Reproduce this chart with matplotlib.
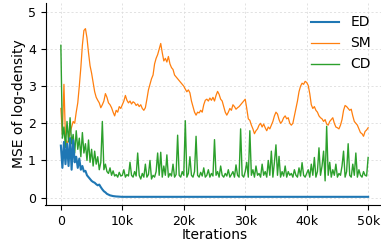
import numpy as np
import matplotlib
matplotlib.use("Agg")
import matplotlib.pyplot as plt

# ---------------- data ----------------
step = 250
iters = np.arange(0, 50001, step)

sm_values = [
    2.4, 1.7, 3.05, 1.6, 1.45, 1.55, 1.75, 1.9, 2.05, 2.0,
    2.3, 2.55, 3.0, 3.5, 4.1, 4.5, 4.55, 4.3, 3.9, 3.55,
    3.35, 3.1, 2.85, 2.7, 2.62, 2.55, 2.42, 2.5, 2.6, 2.8,
    2.7, 2.55, 2.5, 2.42, 2.3, 2.2, 2.35, 2.3, 2.45, 2.4,
    2.5, 2.6, 2.75, 2.62, 2.55, 2.6, 2.52, 2.58, 2.55, 2.48,
    2.52, 2.45, 2.5, 2.4, 2.35, 2.42, 2.65, 2.9, 3.05, 3.2,
    3.3, 3.6, 3.75, 3.85, 4.0, 4.15, 3.9, 3.68, 3.75, 3.65,
    3.8, 3.6, 3.5, 3.45, 3.3, 3.25, 3.2, 3.15, 3.1, 3.05,
    3.0, 2.92, 2.85, 2.9, 2.82, 2.6, 2.45, 2.3, 2.22, 2.3,
    2.28, 2.35, 2.3, 2.5, 2.62, 2.65, 2.6, 2.68, 2.62, 2.7,
    2.6, 2.75, 2.86, 2.78, 2.65, 2.6, 2.45, 2.3, 2.22, 2.3,
    2.4, 2.35, 2.5, 2.45, 2.38, 2.42, 2.45, 2.5, 2.55, 2.6,
    2.65, 2.4, 2.12, 2.08, 1.95, 1.85, 1.72, 1.8, 1.85, 1.95,
    2.0, 1.9, 1.98, 1.88, 1.8, 1.9, 1.85, 1.95, 2.05, 2.2,
    2.3, 2.25, 2.1, 2.0, 2.05, 2.15, 2.2, 2.12, 2.15, 2.0,
    1.95, 2.0, 2.2, 2.4, 2.6, 2.85, 3.0, 3.08, 3.05, 3.13,
    3.1, 3.02, 2.8, 2.5, 2.4, 2.45, 2.35, 2.3, 2.2, 2.15,
    2.12, 2.05, 2.1, 1.98, 1.95, 2.05, 2.1, 2.15, 2.0, 1.9,
    1.88, 1.85, 1.95, 2.1, 2.35, 2.48, 2.45, 2.4, 2.35, 2.38,
    2.2, 2.05, 2.0, 1.95, 1.85, 1.75, 1.72, 1.65, 1.78, 1.82,
    1.88,
]

cd_values = [
    4.1, 1.6, 1.9, 1.35, 2.05, 1.5, 2.15, 1.45, 1.7, 1.2,
    1.8, 1.3, 1.6, 1.1, 1.75, 1.2, 1.45, 1.0, 1.55, 0.95,
    1.3, 0.85, 1.25, 0.9, 1.1, 0.75, 0.95, 2.05, 0.75, 0.9,
    0.7, 0.65, 0.8, 0.6, 0.72, 0.58, 0.62, 0.55, 0.68, 0.58,
    0.6, 0.75, 0.55, 0.62, 0.58, 0.95, 0.6, 0.55, 0.7, 0.58,
    1.2, 0.6, 0.5, 0.65, 0.55, 0.9, 0.55, 0.62, 1.0, 0.5,
    0.6, 0.55, 0.7, 1.2, 0.6, 1.22, 0.55, 0.85, 0.6, 1.15,
    0.55, 0.65, 0.58, 0.9, 0.55, 0.62, 1.68, 0.6, 0.55, 0.7,
    0.6, 2.07, 0.55, 0.65, 1.1, 0.6, 0.55, 0.7, 1.65, 0.6,
    0.55, 0.68, 0.58, 0.8, 0.55, 0.6, 0.75, 0.55, 0.65, 0.58,
    1.56, 0.6, 0.7, 0.55, 0.85, 0.6, 0.55, 0.65, 0.58, 0.75,
    0.55, 0.62, 0.7, 0.55, 0.88, 0.6, 0.55, 1.85, 0.6, 0.55,
    0.7, 0.95, 0.55, 1.8, 0.6, 0.75, 0.55, 0.85, 0.6, 0.65,
    0.55, 0.9, 0.6, 0.7, 0.55, 1.0, 0.6, 1.25, 0.55, 0.95,
    1.42, 0.6, 1.11, 0.55, 0.7, 0.58, 0.85, 0.55, 0.7, 0.6,
    0.65, 0.55, 0.75, 0.6, 0.55, 0.8, 0.58, 0.94, 0.6, 0.55,
    0.65, 0.75, 0.55, 0.9, 0.6, 1.08, 0.55, 0.7, 1.34, 0.6,
    0.85, 1.25, 0.45, 1.92, 0.6, 0.95, 0.55, 0.75, 0.6, 0.9,
    0.55, 0.65, 0.6, 0.85, 1.25, 0.55, 0.7, 1.45, 0.6, 0.55,
    0.9, 0.6, 1.2, 0.55, 0.75, 0.6, 0.55, 0.7, 0.6, 0.58,
    1.08,
]

ed_iters = [
    0, 250, 500, 750, 1000, 1250, 1500, 1750, 2000, 2250,
    2500, 2750, 3000, 3250, 3500, 3750, 4000, 4250, 4500, 4750,
    5000, 5250, 5500, 5750, 6000, 6250, 6500, 6750, 7000, 7250,
    7500, 7750, 8000, 8250, 8500, 8750, 9000, 9250, 9500, 9750,
    10000, 12500, 15000, 17500, 20000, 22500, 25000, 27500, 30000,
    32500, 35000, 37500, 40000, 42500, 45000, 47500, 50000,
]
ed_values = [
    1.4, 0.8, 1.5, 0.9, 1.45, 0.85, 1.6, 0.75, 1.55, 0.95,
    1.1, 0.8, 1.05, 0.75, 0.85, 0.7, 0.72, 0.6, 0.55, 0.5,
    0.45, 0.42, 0.4, 0.36, 0.33, 0.35, 0.28, 0.22, 0.17, 0.14,
    0.1, 0.08, 0.06, 0.05, 0.04, 0.035, 0.03, 0.028, 0.025, 0.022,
    0.02, 0.02, 0.02, 0.02, 0.02, 0.02, 0.02, 0.02, 0.02,
    0.02, 0.02, 0.02, 0.02, 0.02, 0.02, 0.02, 0.02,
]

xtick_values = [0, 10000, 20000, 30000, 40000, 50000]
xtick_labels = ["0", "10k", "20k", "30k", "40k", "50k"]
ytick_values = [0, 1, 2, 3, 4, 5]

# ---------------- plot ----------------
fig = plt.figure(figsize=(3.81, 2.42), dpi=100)
ax = fig.add_axes([45.5 / 381, 37 / 242, 338 / 381, 202 / 242])

ax.plot(ed_iters, ed_values, color="#1f77b4", lw=1.5, label="ED", zorder=3)
ax.plot(iters, sm_values, color="#ff7f0e", lw=0.9, label="SM", zorder=2)
ax.plot(iters, cd_values, color="#2ca02c", lw=1.0, label="CD", zorder=2.5)

ax.set_xlim(-2500, 52500)
ax.set_ylim(-0.2, 5.24)
ax.set_xticks(xtick_values)
ax.set_xticklabels(xtick_labels)
ax.set_yticks(ytick_values)
ax.tick_params(labelsize=9, length=3.5)
ax.grid(True, ls=(0, (2.5, 2.5)), lw=0.6, color="#dddddd")
ax.set_axisbelow(True)
for s in ["top", "right"]:
    ax.spines[s].set_visible(False)

ax.set_xlabel("Iterations", fontsize=10, labelpad=0)
ax.set_ylabel("MSE of log-density", fontsize=10, labelpad=1)
ax.legend(loc="upper right", frameon=False, fontsize=10)

fig.savefig("out.png", dpi=100)
